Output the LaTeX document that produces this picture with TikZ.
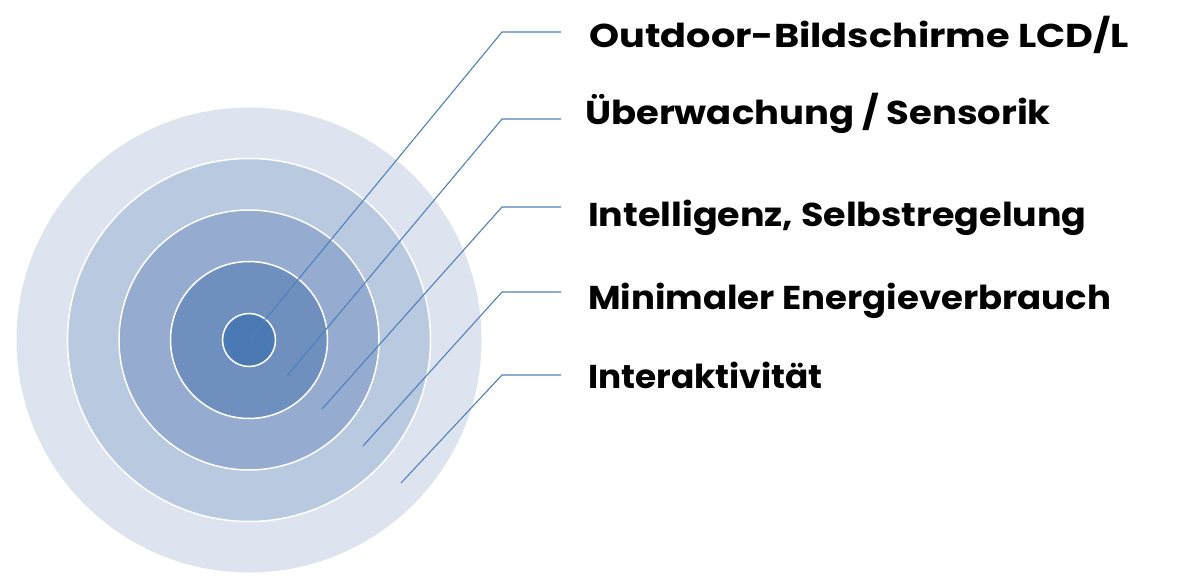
\documentclass[tikz,border=0pt]{standalone}
\usepackage{fontspec}
\setmainfont{Poppins}
\definecolor{ringA}{RGB}{222,228,239}
\definecolor{ringB}{RGB}{185,201,224}
\definecolor{ringC}{RGB}{149,171,208}
\definecolor{ringD}{RGB}{111,143,190}
\definecolor{ringE}{RGB}{74,121,180}
\definecolor{leader}{RGB}{79,129,189}
\tikzset{
  ring/.style={draw=white, line width=1.5pt},
  lbl/.style={anchor=base west, inner sep=0pt, font=\fontsize{33}{36}\selectfont\bfseries, text=black},
  leaderline/.style={draw=leader, line width=1.1pt}
}
\begin{document}
\begin{tikzpicture}[x=1pt,y=-1pt]
\useasboundingbox (0,0) rectangle (1200,580);
\fill[white] (0,0) rectangle (1200,580);
\coordinate (c) at (249,340);
\fill[ringA] (c) circle[radius=232.5];
\filldraw[ring, fill=ringB] (c) circle[radius=181.5];
\filldraw[ring, fill=ringC] (c) circle[radius=130];
\filldraw[ring, fill=ringD] (c) circle[radius=78.5];
\filldraw[ring, fill=ringE] (c) circle[radius=26.5];

\node[lbl, xscale=1.16]  (t1) at (589,48)  {Outdoor-Bildschirme LCD/L};
\node[lbl, xscale=1.12]  (t2) at (585,125) {Überwachung / Sensorik};
\node[lbl, xscale=1.105] (t3) at (588,227) {Intelligenz, Selbstregelung};
\node[lbl, xscale=1.076] (t4) at (588,309) {Minimaler Energieverbrauch};
\node[lbl, xscale=1.04]  (t5) at (588,388) {Interaktivität};

\coordinate (s1) at (250,338); \coordinate (k1) at (502,32);  \coordinate (h1) at (561,32);
\coordinate (s2) at (287,376); \coordinate (k2) at (502,119); \coordinate (h2) at (561,119);
\coordinate (s3) at (322,409); \coordinate (k3) at (502,207); \coordinate (h3) at (561,207);
\coordinate (s4) at (363,446); \coordinate (k4) at (502,292); \coordinate (h4) at (561,292);
\coordinate (s5) at (401,483); \coordinate (k5) at (502,375); \coordinate (h5) at (561,375);
\foreach \i in {1,...,5}{
  \draw[leaderline] (s\i) -- (k\i) -- (h\i);
}
\end{tikzpicture}
\end{document}
